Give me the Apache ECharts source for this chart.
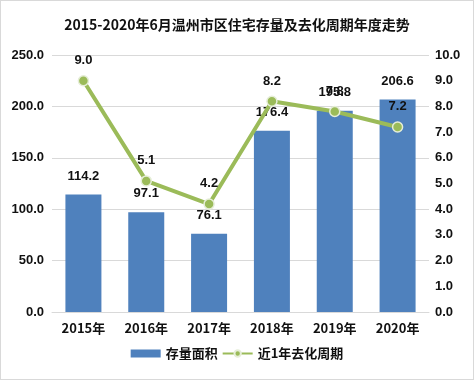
<!DOCTYPE html>
<html><head><meta charset="utf-8">
<script src="https://cdn.jsdelivr.net/npm/echarts@6/dist/echarts.min.js"></script>
<style>html,body{margin:0;padding:0;background:#fff}#c{width:474px;height:380px;box-sizing:border-box;border:1px solid #d9d9d9}</style>
</head><body><div id="c"></div>
<script>
const categories = ['2015年','2016年','2017年','2018年','2019年','2020年'];
const stockArea = [114.2, 97.1, 76.1, 176.4, 195.8, 206.6];
const cycle = [9.0, 5.1, 4.2, 8.2, 7.8, 7.2];
const chart = echarts.init(document.getElementById('c'));
const ff = '"Microsoft YaHei","Noto Sans CJK SC",sans-serif';
chart.setOption({
  animation: false,
  title: {text: '2015-2020年6月温州市区住宅存量及去化周期年度走势', left: 'center', top: 12,
    textStyle: {fontSize: 14, fontWeight: 'bold', color: '#111', fontFamily: ff}},
  grid: {left: 51, right: 44, top: 54, bottom: 67},
  legend: {bottom: 14, itemGap: 4, itemWidth: 30, itemHeight: 8, textStyle: {fontSize: 13, fontWeight: 'bold', color: '#111', fontFamily: ff},
    data: [{name: '存量面积', icon: 'rect'}, {name: '近1年去化周期'}]},
  xAxis: {type: 'category', data: categories, axisTick: {show: false},
    axisLine: {lineStyle: {color: '#d9d9d9'}},
    axisLabel: {fontSize: 13, fontWeight: 'bold', color: '#111', margin: 10, fontFamily: ff}},
  yAxis: [
    {type: 'value', min: 0, max: 250, interval: 50,
     axisLabel: {formatter: v => v.toFixed(1), fontSize: 13, fontWeight: 'bold', color: '#111', margin: 8},
     splitLine: {lineStyle: {color: '#d9d9d9'}}},
    {type: 'value', min: 0, max: 10, interval: 1,
     axisLabel: {formatter: v => v.toFixed(1), fontSize: 13, fontWeight: 'bold', color: '#111', margin: 6},
     splitLine: {show: false}}
  ],
  series: [
    {name: '存量面积', type: 'bar', data: stockArea, barWidth: 36, itemStyle: {color: '#4f81bd'},
     label: {show: true, position: 'top', distance: 12, fontSize: 13, fontWeight: 'bold', color: '#111', formatter: p => p.value.toFixed(1)}},
    {name: '近1年去化周期', type: 'line', yAxisIndex: 1, data: cycle, symbol: 'circle', symbolSize: 10,
     lineStyle: {color: '#9bbb59', width: 4}, itemStyle: {color: '#9bbb59', borderColor: '#e6eed8', borderWidth: 1.5},
     label: {show: true, position: 'top', distance: 8, fontSize: 13, fontWeight: 'bold', color: '#111', formatter: p => p.value.toFixed(1)}}
  ]
});
</script></body></html>
